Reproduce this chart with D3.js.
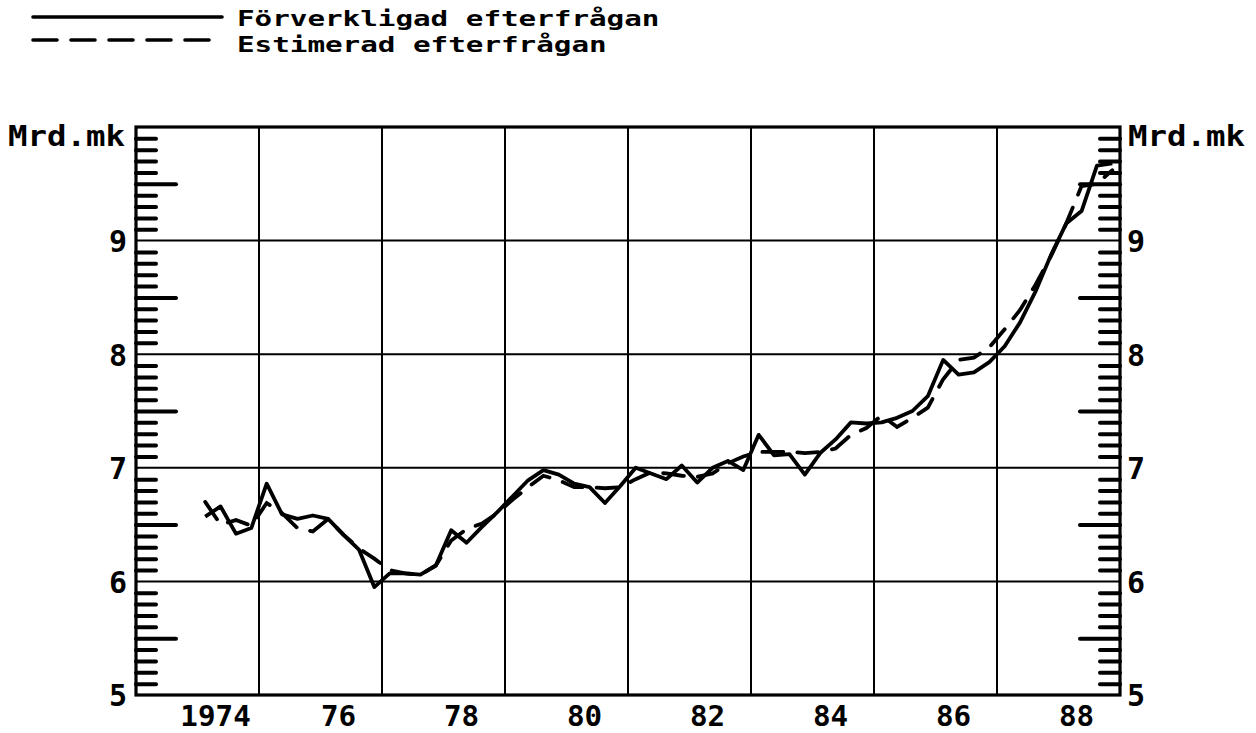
<!DOCTYPE html>
<html><head><meta charset="utf-8">
<script src="https://cdn.jsdelivr.net/npm/d3@7"></script>
<style>
body{margin:0;background:#fff}
text{font-family:"DejaVu Sans Mono",monospace;font-weight:bold;fill:#000}
</style>
</head><body>
<svg id="c" width="1256" height="733"></svg>
<script>
// Quarterly data 1974Q1 – 1988Q4 (billions of marks)
const startYear = 1974;
const actual = [6.57,6.66,6.42,6.47, 6.86,6.59,6.55,6.58, 6.55,6.41,6.28,5.95, 6.07,6.07,6.06,6.14,
  6.45,6.34,6.48,6.61, 6.75,6.89,6.98,6.94, 6.86,6.83,6.69,6.84, 7.00,6.95,6.90,7.02,
  6.87,7.00,7.06,6.98, 7.29,7.11,7.12,6.94, 7.13,7.25,7.40,7.39, 7.40,7.44,7.50,7.63,
  7.95,7.82,7.84,7.93, 8.07,8.28,8.55,8.87, 9.15,9.26,9.66,9.68];
const estimated = [6.70,6.50,6.54,6.49, 6.69,6.60,6.47,6.44, 6.55,6.41,6.29,6.20, 6.10,6.07,6.06,6.14,
  6.36,6.46,6.51,6.60, 6.72,6.83,6.93,6.89, 6.83,6.83,6.82,6.83, 6.90,6.96,6.95,6.93,
  6.92,6.95,7.04,7.10, 7.14,7.14,7.14,7.13, 7.14,7.17,7.29,7.35, 7.46,7.36,7.44,7.53,
  7.78,7.95,7.97,8.06, 8.22,8.39,8.61,8.86, 9.15,9.48,9.50,9.62];
const xTickYears = [1974,1976,1978,1980,1982,1984,1986,1988];
const xTickLabels = ["1974","76","78","80","82","84","86","88"];
const yTicks = [5,6,7,8,9];
const legendLabels = ["Förverkligad efterfrågan","Estimerad efterfrågan"];
const unitLabel = "Mrd.mk";

const svg = d3.select("#c");
const L=136, R=1120, T=127, B=695;
const x = d3.scaleLinear().domain([1972.875,1988.875]).range([L,R]);
const y = d3.scaleLinear().domain([5,10]).range([B,T]);
const tOf = i => startYear + i/4;
const CW = 17.6; // char advance for plotter-like font

// grid
const gridX = d3.range(1974.875, 1988.8, 2);
svg.append("g").selectAll("line").data(gridX).join("line")
  .attr("x1",d=>x(d)).attr("x2",d=>x(d)).attr("y1",T).attr("y2",B)
  .attr("stroke","#000").attr("stroke-width",2);
svg.append("g").selectAll("line").data(yTicks.filter(v=>v>5)).join("line")
  .attr("x1",L).attr("x2",R).attr("y1",d=>y(d)).attr("y2",d=>y(d))
  .attr("stroke","#000").attr("stroke-width",2);

// minor ticks
const minor = d3.range(51,100).map(v=>v/10).filter(v=>Math.abs(v-Math.round(v))>1e-6 && Math.abs(v*2-Math.round(v*2))>1e-6);
const half = [5.5,6.5,7.5,8.5,9.5];
function tickAxis(gen, xpos, vals, size){
  const g = svg.append("g").attr("transform",`translate(${xpos},0)`)
    .call(gen(y).tickValues(vals).tickSize(size).tickFormat(""));
  g.select(".domain").remove();
  g.selectAll(".tick line").attr("stroke","#000").attr("stroke-width",4).attr("stroke-linecap","round");
}
tickAxis(d3.axisRight, L, minor, 20);
tickAxis(d3.axisRight, L, half, 40);
tickAxis(d3.axisLeft, R, minor, 20);
tickAxis(d3.axisLeft, R, half, 40);

// frame
svg.append("rect").attr("x",L).attr("y",T).attr("width",R-L).attr("height",B-T)
  .attr("fill","none").attr("stroke","#000").attr("stroke-width",3.2);

// y labels
const yl = svg.append("g").attr("transform",`translate(${L},0)`)
  .call(d3.axisLeft(y).tickValues(yTicks).tickSize(0).tickPadding(9).tickFormat(d3.format("d")));
yl.select(".domain").remove();
const yr = svg.append("g").attr("transform",`translate(${R},0)`)
  .call(d3.axisRight(y).tickValues(yTicks).tickSize(0).tickPadding(7).tickFormat(d3.format("d")));
yr.select(".domain").remove();
svg.selectAll(".tick text").attr("font-size",30).attr("font-family",null).attr("fill","#000").attr("dy","0.36em");

// x labels
const xa = svg.append("g").attr("transform",`translate(0,${B})`)
  .call(d3.axisBottom(x).tickValues(xTickYears.map(v=>v+0.16)).tickSize(0).tickPadding(10)
    .tickFormat((d,i)=>xTickLabels[i]));
xa.select(".domain").remove();
xa.selectAll("text").attr("font-size",29).attr("font-family",null).attr("fill","#000")
  .attr("textLength",function(){return this.textContent.length*CW;}).attr("lengthAdjust","spacingAndGlyphs");

// unit labels
svg.append("text").attr("x",125).attr("y",146).attr("text-anchor","end").attr("font-size",28)
  .attr("textLength",6*19.5).attr("lengthAdjust","spacingAndGlyphs").text(unitLabel);
svg.append("text").attr("x",1128).attr("y",146).attr("font-size",28)
  .attr("textLength",6*19.5).attr("lengthAdjust","spacingAndGlyphs").text(unitLabel);

// series
const line = d3.line().x((d,i)=>x(tOf(i))).y(d=>y(d));
svg.append("path").datum(actual).attr("d",line).attr("fill","none").attr("stroke","#000")
  .attr("stroke-width",3.8).attr("stroke-linejoin","round");
svg.append("path").datum(estimated).attr("d",line).attr("fill","none").attr("stroke","#000")
  .attr("stroke-width",3.8).attr("stroke-dasharray","21 14").attr("stroke-linecap","round");

// legend
const lg = [{y:17,dash:null,ty:26},{y:40,dash:"24 14",ty:52}];
lg.forEach((d,i)=>{
  svg.append("line").attr("x1",33).attr("x2",222).attr("y1",d.y).attr("y2",d.y)
    .attr("stroke","#000").attr("stroke-width",3.6).attr("stroke-dasharray",d.dash).attr("stroke-linecap","round");
  svg.append("text").attr("x",237).attr("y",d.ty).attr("font-size",22)
    .attr("textLength",legendLabels[i].length*CW).attr("lengthAdjust","spacingAndGlyphs").text(legendLabels[i]);
});
</script>
</body></html>
